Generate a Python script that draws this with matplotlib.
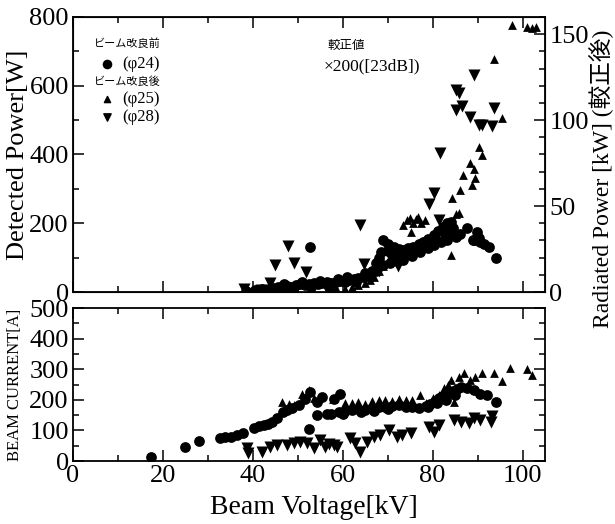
import matplotlib
matplotlib.use('Agg')
import matplotlib.pyplot as plt
from matplotlib.ticker import MultipleLocator

plt.rcParams['font.family'] = ['Liberation Serif', 'Noto Sans CJK JP']

# --- Detected power (upper panel) ---
# phi24 (before improvement)
circ_v_top = [38.5, 40.5, 42.0, 43.5, 44.5, 45.5, 46.5, 47.5, 48.5, 49.5, 50.5, 51.5, 52.5,
              53.5, 54.5, 55.5, 56.5, 57.5, 58.5, 59.5, 60.5, 61.5, 62.5, 63.5, 64.5, 65.5,
              66.5, 67.5, 68.5, 69.0, 70.0, 71.3, 72.5, 73.5, 74.5, 75.7, 77.0, 77.9, 79.0,
              80.2, 81.3, 82.4, 83.3, 84.0, 84.6, 66.1, 67.5, 69.0, 70.6, 72.0, 73.5, 75.5,
              77.3, 79.0, 80.2, 81.8, 83.2, 52.8, 87.7, 89.0, 89.9, 90.3, 91.4, 92.5, 94.0,
              89.3, 90.5, 45.0, 47.0, 49.0, 51.0, 53.0, 55.0, 57.0, 59.0, 61.0, 63.0, 65.0,
              68.0, 70.0, 71.0, 72.8, 74.0, 76.5, 78.5, 80.8, 82.8, 84.3, 85.3, 86.0]
circ_w_top = [3, 5, 8, 10, 12, 14, 15, 18, 16, 20, 22, 20, 24,
              26, 22, 25, 28, 25, 30, 32, 28, 35, 38, 40, 45, 50,
              62, 85, 115, 151, 140, 132, 125, 122, 128, 132, 140, 146, 155,
              166, 178, 190, 200, 204, 186, 44, 60, 80, 84, 90, 93, 105,
              117, 128, 137, 145, 151, 130, 187, 150, 175, 156, 141, 130, 100,
              150, 145, 8, 22, 10, 28, 14, 32, 16, 38, 45, 30, 55,
              100, 118, 108, 105, 112, 122, 135, 152, 168, 172, 160, 170]
# phi25 (after improvement)
up_v_top = [58.5, 60.5, 62.0, 63.5, 65.0, 66.0, 67.0, 68.0, 69.0, 70.0, 71.0, 72.5, 73.5,
            74.3, 75.0, 75.6, 76.2, 76.8, 77.5, 78.4, 75.2, 79.0, 80.5, 82.0, 83.0, 84.0,
            84.3, 85.8, 86.0, 86.8, 88.8, 89.5, 89.3, 88.4, 90.3, 91.0, 93.6, 95.5, 97.7,
            101.0, 102.0, 103.0, 85.2]
up_w_top = [12, 8, 15, 20, 25, 35, 45, 60, 75, 90, 100, 125, 195,
            210, 215, 200, 212, 218, 200, 210, 175, 155, 170, 180, 190, 108,
            272, 229, 297, 340, 311, 333, 357, 376, 422, 398, 679, 505, 776,
            771, 768, 770, 226]
# phi28 (after improvement)
dn_v_top = [38.1, 41.8, 43.9, 45.0, 47.9, 49.1, 51.9, 63.9, 64.7, 72.2, 79.1, 80.2, 81.4,
            81.7, 85.1, 85.8, 86.6, 85.3, 88.3, 89.2, 90.3, 91.0, 93.2, 93.6, 56.0, 60.5, 68.0]
dn_w_top = [8, 6, 27, 78, 134, 85, 59, 195, 81, 76, 255, 289, 209,
            403, 587, 578, 541, 529, 508, 631, 485, 487, 483, 534, 22, 30, 60]

# --- Beam current (lower panel) ---
circ_v_bot = [17.3, 24.9, 28.1, 32.6, 33.9, 35.2, 36.5, 37.9, 40.2, 41.3, 42.4, 43.3, 44.3,
              45.4, 46.8, 47.7, 48.7, 50.2, 51.7, 52.8, 54.3, 55.4, 52.6, 54.3, 56.5, 58.0,
              59.5, 57.3, 59.1, 60.5, 62.0, 63.5, 65.0, 66.5, 68.0, 69.5, 71.0, 72.5, 74.0,
              75.5, 77.0, 78.5, 79.5, 80.5, 81.5, 82.5, 83.5, 84.5, 85.5, 86.2, 87.7, 89.2,
              90.6, 92.1, 94.0, 79.0, 81.0, 83.0, 85.0, 60.0, 64.0, 67.0, 70.0]
circ_a_bot = [12, 47, 66, 74, 79, 80, 85, 90, 109, 113, 117, 122, 128,
              142, 161, 166, 172, 182, 204, 226, 193, 210, 103, 150, 153, 204,
              220, 154, 161, 165, 168, 170, 168, 172, 175, 178, 180, 182, 178,
              175, 172, 180, 185, 195, 205, 215, 222, 230, 236, 242, 237, 231,
              220, 215, 193, 175, 190, 200, 215, 155, 160, 165, 170]
up_v_bot = [46.5, 48.0, 49.1, 50.9, 52.4, 53.5, 57.8, 60.5, 62.0, 63.5, 65.0, 66.5, 68.0,
            69.5, 71.0, 72.5, 74.0, 75.5, 77.3, 78.5, 80.0, 81.5, 82.5, 83.5, 84.7, 84.0,
            85.8, 86.9, 88.4, 89.5, 91.0, 93.6, 95.5, 97.3, 101.0, 102.2]
up_a_bot = [193, 185, 182, 220, 231, 205, 202, 190, 188, 192, 185, 195, 198,
            200, 195, 202, 198, 200, 215, 190, 205, 215, 240, 250, 193, 264,
            275, 286, 264, 275, 286, 288, 262, 305, 302, 280]
dn_v_bot = [38.7, 39.0, 42.0, 43.9, 45.4, 47.6, 49.1, 50.5, 52.0, 53.5, 55.0, 56.1, 57.0,
            58.0, 58.8, 61.7, 62.8, 63.9, 65.4, 66.9, 68.4, 70.2, 72.1, 73.2, 75.1, 79.1,
            80.2, 81.4, 84.7, 86.2, 88.0, 89.2, 90.6, 92.9, 93.2]
dn_a_bot = [41, 25, 30, 47, 52, 52, 58, 62, 58, 41, 68, 47, 55,
            52, 47, 74, 58, 30, 63, 79, 85, 101, 79, 85, 90, 112,
            95, 117, 134, 128, 123, 142, 134, 128, 147]

fig = plt.figure(figsize=(6.15, 5.24), dpi=100)
ax1 = fig.add_axes([0.1187, 0.4427, 0.7675, 0.525])
ax2 = fig.add_axes([0.1187, 0.1202, 0.7675, 0.292])

series = [
    (ax1, circ_v_top, circ_w_top, up_v_top, up_w_top, dn_v_top, dn_w_top),
    (ax2, circ_v_bot, circ_a_bot, up_v_bot, up_a_bot, dn_v_bot, dn_a_bot),
]
for ax, cv, cy, uv, uy, dv, dy in series:
    ax.scatter(cv, cy, marker='o', s=60, color='black', linewidths=0, zorder=3)
    ax.scatter(uv, uy, marker='^', s=40, color='black', linewidths=0, zorder=3)
    ax.scatter(dv, dy, marker='v', s=75, color='black', linewidths=0, zorder=3)
    ax.set_xlim(0, 105)
    ax.xaxis.set_major_locator(MultipleLocator(20))
    ax.xaxis.set_minor_locator(MultipleLocator(10))
    for sp in ax.spines.values():
        sp.set_linewidth(1.3)
    ax.tick_params(which='both', direction='in', top=True, labelsize=19, pad=3, width=1.1)
    ax.tick_params(which='major', length=8)
    ax.tick_params(which='minor', length=4)

# upper panel
ax1.set_ylim(0, 800)
ax1.yaxis.set_major_locator(MultipleLocator(200))
ax1.yaxis.set_minor_locator(MultipleLocator(100))
ax1.tick_params(labelbottom=False)
ax1.set_ylabel('Detected Power[W]', fontsize=19)
ax1.yaxis.set_label_coords(-0.093, 0.5)

axr = ax1.twinx()
axr.set_ylim(0, 160)
axr.yaxis.set_major_locator(MultipleLocator(50))
axr.yaxis.set_minor_locator(MultipleLocator(10))
axr.tick_params(which='both', direction='in', labelsize=19, pad=3, width=1.1)
axr.tick_params(which='major', length=8)
axr.tick_params(which='minor', length=4)
axr.set_ylabel('Radiated Power [kW] (較正後)', fontsize=17, rotation=90)
axr.yaxis.set_label_coords(1.093, 0.41)

# legend drawn as text
ax1.text(0.045, 0.905, 'ビーム改良前', transform=ax1.transAxes, fontsize=8, va='center')
ax1.text(0.105, 0.83, '(φ24)', transform=ax1.transAxes, fontsize=12, va='center')
ax1.text(0.045, 0.765, 'ビーム改良後', transform=ax1.transAxes, fontsize=8, va='center')
ax1.text(0.105, 0.70, '(φ25)', transform=ax1.transAxes, fontsize=12, va='center')
ax1.text(0.105, 0.635, '(φ28)', transform=ax1.transAxes, fontsize=12, va='center')
ax1.scatter([0.072], [0.83], marker='o', s=35, color='black', transform=ax1.transAxes)
ax1.scatter([0.072], [0.70], marker='^', s=20, color='black', transform=ax1.transAxes)
ax1.scatter([0.072], [0.635], marker='v', s=28, color='black', transform=ax1.transAxes)

ax1.text(0.54, 0.895, '較正値', transform=ax1.transAxes, fontsize=9, va='center')
ax1.text(0.53, 0.82, '×200([23dB])', transform=ax1.transAxes, fontsize=12.5, va='center')

# lower panel
ax2.set_ylim(0, 500)
ax2.yaxis.set_major_locator(MultipleLocator(100))
ax2.yaxis.set_minor_locator(MultipleLocator(50))
ax2.tick_params(which='both', right=True)
ax2.set_ylabel('BEAM CURRENT[A]', fontsize=12)
ax2.yaxis.set_label_coords(-0.105, 0.5)
ax2.set_xlabel('Beam Voltage[kV]', fontsize=20)
ax2.xaxis.set_label_coords(0.51, -0.22)

fig.savefig('out.png', dpi=100)
